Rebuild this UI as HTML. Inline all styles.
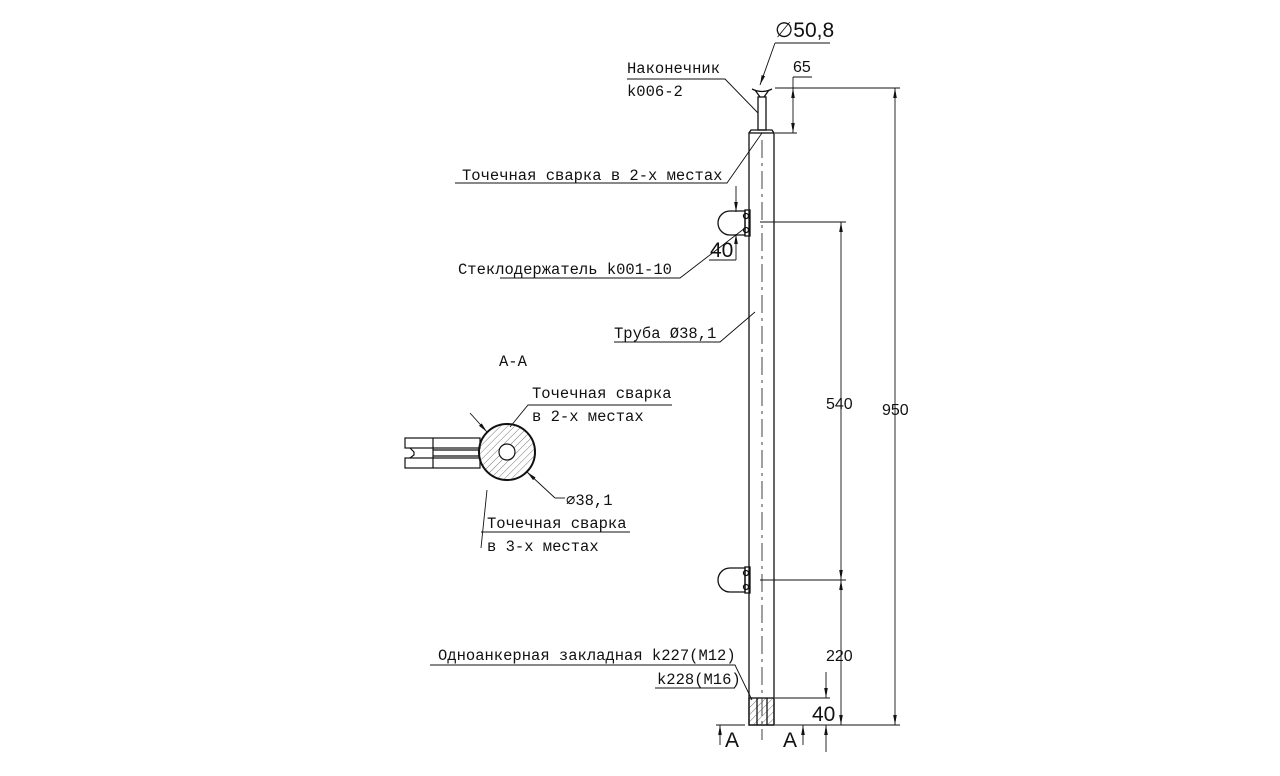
<!DOCTYPE html>
<html><head><meta charset="utf-8"><style>
html,body{margin:0;padding:0;background:#fff;width:1280px;height:776px;overflow:hidden}
svg text{font-family:"Liberation Mono","DejaVu Sans Mono",monospace;font-size:15.5px;fill:#111}
svg text.s{font-family:"Liberation Sans",sans-serif;font-size:16px}
</style></head><body>
<svg width="1280" height="776" viewBox="0 0 1280 776" xmlns="http://www.w3.org/2000/svg">
<defs>
<marker id="a" viewBox="0 0 10 10" refX="10" refY="5" markerWidth="10" markerHeight="10" markerUnits="userSpaceOnUse" orient="auto-start-reverse"><path d="M0,3.2 L10,5 L0,6.8z" fill="#111"/></marker>
<pattern id="h" width="5" height="5" patternUnits="userSpaceOnUse" patternTransform="rotate(45)"><line x1="0" y1="0" x2="0" y2="5" stroke="#555" stroke-width="0.8"/></pattern>
</defs>
<g stroke="#111" fill="none" stroke-width="1.3">
<rect x="749" y="133" width="25" height="592"/>
<line x1="762" y1="140" x2="762" y2="740" stroke-width="0.8" stroke-dasharray="18,5,3,5"/>
<rect x="749" y="698" width="25" height="27" fill="url(#h)"/>
<line x1="757" y1="698" x2="757" y2="725"/><line x1="767" y1="698" x2="767" y2="725"/>
<path d="M749,133 L751,130 L772,130 L774,133"/>
<rect x="758" y="97" width="8" height="33"/>
<path d="M752,89 Q762,94 772,89 M755,90 L760,97 M769,90 L764,97"/>
<path d="M745,211 L730,211 A12,12 0 0 0 730,235 L745,235 Z"/>
<rect x="745" y="210" width="5" height="26"/>
<circle cx="746" cy="216" r="2.5"/><circle cx="746" cy="230" r="2.5"/>
<path d="M745,568 L730,568 A12,12 0 0 0 730,592 L745,592 Z"/>
<rect x="745" y="567" width="5" height="26"/>
<circle cx="746" cy="573" r="2.5"/><circle cx="746" cy="587" r="2.5"/>
</g>
<g stroke="#111" fill="none" stroke-width="0.9">
<line x1="775" y1="88" x2="900" y2="88"/><line x1="775" y1="725" x2="900" y2="725"/>
<line x1="895" y1="88" x2="895" y2="725" marker-start="url(#a)" marker-end="url(#a)"/>
<line x1="760" y1="222" x2="846" y2="222"/><line x1="760" y1="580" x2="846" y2="580"/>
<line x1="841" y1="222" x2="841" y2="580" marker-start="url(#a)" marker-end="url(#a)"/>
<line x1="841" y1="580" x2="841" y2="725" marker-start="url(#a)" marker-end="url(#a)"/>
<line x1="775" y1="698" x2="830" y2="698"/>
<line x1="826" y1="672" x2="826" y2="698" marker-end="url(#a)"/>
<line x1="826" y1="752" x2="826" y2="725" marker-end="url(#a)"/>
<line x1="775" y1="133" x2="797" y2="133"/>
<line x1="793" y1="88" x2="793" y2="133" marker-start="url(#a)" marker-end="url(#a)"/>
<line x1="793" y1="88" x2="793" y2="77"/><line x1="793" y1="77" x2="812" y2="77"/>
<line x1="736" y1="186" x2="736" y2="212" marker-end="url(#a)"/>
<line x1="736" y1="260" x2="736" y2="234" marker-end="url(#a)"/>
<line x1="709" y1="260" x2="736" y2="260"/>
<line x1="830" y1="43" x2="775" y2="43"/><line x1="775" y1="43" x2="760" y2="85" marker-end="url(#a)"/>
<path d="M627,79 L725,79 L758,113"/>
<path d="M455,183 L727,183 L762,133"/>
<path d="M500,278 L680,278 L745,228"/>
<path d="M614,342 L720,342 L755,312"/>
<path d="M430,665 L735,665 L752,700"/>
<path d="M655,688 L735,688"/>
<line x1="716" y1="725" x2="745" y2="725"/><line x1="720" y1="745" x2="720" y2="725" marker-end="url(#a)"/>
<line x1="778" y1="725" x2="806" y2="725"/><line x1="803" y1="745" x2="803" y2="725" marker-end="url(#a)"/>
</g>
<g stroke="#111" fill="none" stroke-width="1.2">
<rect x="405" y="438" width="75" height="10"/><rect x="405" y="458" width="75" height="10"/>
<line x1="433" y1="438" x2="433" y2="468"/>
<path d="M410,448 L414,452 L414,455 L410,458 M433,450 L480,450 M433,456 L480,456"/>
<circle cx="507" cy="452" r="28" fill="url(#h)" stroke-width="2"/>
<circle cx="507" cy="452" r="8" fill="#fff"/>
</g>
<g stroke="#111" fill="none" stroke-width="0.9">
<line x1="470" y1="413" x2="487" y2="432" marker-end="url(#a)"/>
<line x1="555" y1="498" x2="527" y2="472" marker-end="url(#a)"/>
<line x1="555" y1="498" x2="565" y2="498"/>
<path d="M672,405 L528,405 L510,427"/>
<path d="M481,548 L487,490"/><line x1="481" y1="532" x2="630" y2="532"/>
</g>
<text x="775" y="37" class="s" style="font-size:21px">∅50,8</text>
<text x="793" y="72" class="s">65</text>
<text x="627" y="73">Наконечник</text>
<text x="627" y="96">k006-2</text>
<text x="462" y="180">Точечная сварка в 2-х местах</text>
<text x="710" y="257" class="s" style="font-size:21px">40</text>
<text x="458" y="274">Стеклодержатель k001-10</text>
<text x="614" y="338">Труба Ø38,1</text>
<text x="499" y="366">А-А</text>
<text x="532" y="398">Точечная сварка</text>
<text x="532" y="421">в 2-х местах</text>
<text x="566" y="505">∅38,1</text>
<text x="487" y="528">Точечная сварка</text>
<text x="487" y="551">в 3-х местах</text>
<text x="826" y="409" class="s">540</text>
<text x="882" y="415" class="s">950</text>
<text x="826" y="661" class="s">220</text>
<text x="812" y="721" class="s" style="font-size:21px">40</text>
<text x="438" y="660">Одноанкерная закладная k227(M12)</text>
<text x="657" y="684">k228(M16)</text>
<text x="725" y="747" class="s" style="font-size:21px">А</text>
<text x="783" y="747" class="s" style="font-size:21px">А</text>
</svg>
</body></html>
